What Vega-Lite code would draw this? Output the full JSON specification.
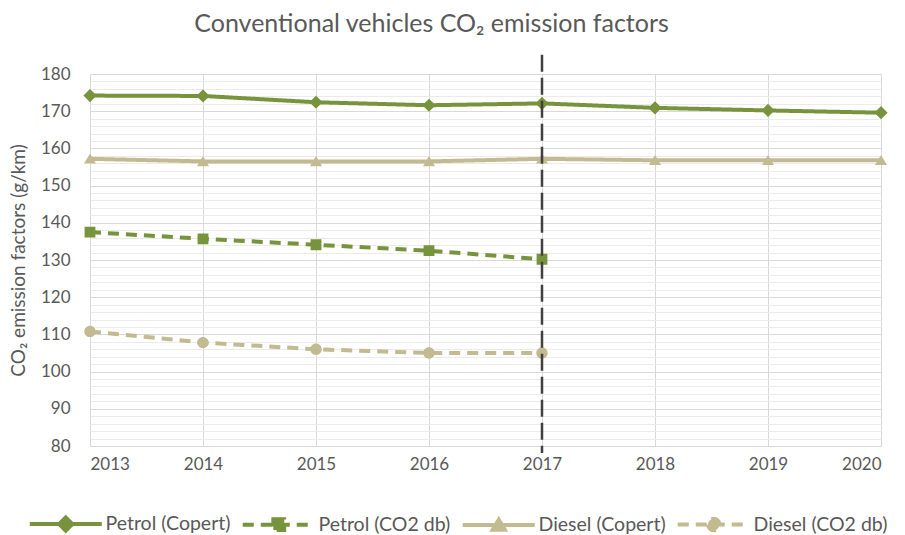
{
  "$schema": "https://vega.github.io/schema/vega-lite/v6.json",
  "width": 791,
  "height": 372,
  "autosize": {"type": "none"},
  "padding": {"left": 90, "right": 24, "top": 74, "bottom": 89},
  "background": "white",
  "config": {
    "font": "Lato",
    "view": {"stroke": null},
    "axis": {"labelColor": "#595959", "titleColor": "#595959", "labelFont": "Lato", "titleFont": "Lato", "labelFontSize": 17, "titleFontSize": 19, "titleFontWeight": "normal", "domain": false, "ticks": false, "gridWidth": 1},
    "legend": {"labelFont": "Lato", "labelFontSize": 19.5, "labelColor": "#595959", "symbolStrokeWidth": 4, "symbolOpacity": 1, "padding": 0}
  },
  "title": {"text": "Conventional vehicles CO₂ emission factors", "fontSize": 25, "fontWeight": "normal", "color": "#595959", "font": "Lato", "anchor": "middle", "frame": "group", "offset": 16, "dx": -54},
  "datasets": {
    "series": [
      {"series": "Petrol (Copert)", "year": 2013, "value": 174.2},
      {"series": "Petrol (Copert)", "year": 2014, "value": 174.1},
      {"series": "Petrol (Copert)", "year": 2015, "value": 172.4},
      {"series": "Petrol (Copert)", "year": 2016, "value": 171.6},
      {"series": "Petrol (Copert)", "year": 2017, "value": 172.1},
      {"series": "Petrol (Copert)", "year": 2018, "value": 170.9},
      {"series": "Petrol (Copert)", "year": 2019, "value": 170.2},
      {"series": "Petrol (Copert)", "year": 2020, "value": 169.6},
      {"series": "Petrol (CO2 db)", "year": 2013, "value": 137.5},
      {"series": "Petrol (CO2 db)", "year": 2014, "value": 135.7},
      {"series": "Petrol (CO2 db)", "year": 2015, "value": 134.1},
      {"series": "Petrol (CO2 db)", "year": 2016, "value": 132.5},
      {"series": "Petrol (CO2 db)", "year": 2017, "value": 130.2},
      {"series": "Diesel (Copert)", "year": 2013, "value": 157.2},
      {"series": "Diesel (Copert)", "year": 2014, "value": 156.5},
      {"series": "Diesel (Copert)", "year": 2015, "value": 156.5},
      {"series": "Diesel (Copert)", "year": 2016, "value": 156.5},
      {"series": "Diesel (Copert)", "year": 2017, "value": 157.2},
      {"series": "Diesel (Copert)", "year": 2018, "value": 156.8},
      {"series": "Diesel (Copert)", "year": 2019, "value": 156.8},
      {"series": "Diesel (Copert)", "year": 2020, "value": 156.8},
      {"series": "Diesel (CO2 db)", "year": 2013, "value": 110.8},
      {"series": "Diesel (CO2 db)", "year": 2014, "value": 107.8},
      {"series": "Diesel (CO2 db)", "year": 2015, "value": 106.0},
      {"series": "Diesel (CO2 db)", "year": 2016, "value": 105.0},
      {"series": "Diesel (CO2 db)", "year": 2017, "value": 105.0}
    ],
    "marker": [
      {"year": 2017, "top": 185.2, "bottom": 78.1}
    ]
  },
  "layer": [
    {
      "data": {"name": "series"},
      "mark": {"type": "line", "strokeWidth": 4, "strokeJoin": "round", "strokeCap": "butt"},
      "encoding": {
        "x": {
          "field": "year", "type": "quantitative",
          "scale": {"domain": [2013, 2020], "nice": false, "zero": false},
          "axis": {
            "title": null,
            "values": [2013, 2013.5, 2014, 2014.5, 2015, 2015.5, 2016, 2016.5, 2017, 2017.5, 2018, 2018.5, 2019, 2019.5, 2020],
            "tickCount": 100,
            "format": "d",
            "labelExpr": "datum.value % 1 === 0 ? datum.label : ''",
            "labelPadding": 10,
            "labelOverlap": false,
            "gridColor": {"condition": {"test": "datum.value % 1 === 0", "value": "#d9d9d9"}, "value": "#ececec"}
          }
        },
        "y": {
          "field": "value", "type": "quantitative",
          "scale": {"domain": [80, 180], "nice": false, "zero": false},
          "axis": {
            "title": "CO₂ emission factors (g/km)",
            "values": [80, 82, 84, 86, 88, 90, 92, 94, 96, 98, 100, 102, 104, 106, 108, 110, 112, 114, 116, 118, 120, 122, 124, 126, 128, 130, 132, 134, 136, 138, 140, 142, 144, 146, 148, 150, 152, 154, 156, 158, 160, 162, 164, 166, 168, 170, 172, 174, 176, 178, 180],
            "tickCount": 100,
            "labelExpr": "datum.value % 10 === 0 ? datum.label : ''",
            "labelOverlap": false,
            "labelPadding": 20,
            "titlePadding": 12,
            "gridColor": {"condition": {"test": "datum.value % 10 === 0", "value": "#d9d9d9"}, "value": "#ebebeb"}
          }
        },
        "color": {
          "field": "series", "type": "nominal",
          "scale": {"domain": ["Petrol (Copert)", "Petrol (CO2 db)", "Diesel (Copert)", "Diesel (CO2 db)"], "range": ["#77933c", "#77933c", "#c2ba90", "#c2ba90"]},
          "legend": {
            "title": null, "orient": "none", "legendX": -34, "legendY": 440, "direction": "horizontal", "columns": 4,
            "symbolSize": 144, "labelOffset": 30, "columnPadding": 3
          }
        },
        "strokeDash": {
          "field": "series", "type": "nominal",
          "scale": {"domain": ["Petrol (Copert)", "Petrol (CO2 db)", "Diesel (Copert)", "Diesel (CO2 db)"], "range": [[1, 0], [11, 7], [1, 0], [11, 7]]},
          "legend": {"title": null}
        }
      }
    },
    {
      "data": {"name": "series"},
      "mark": {"type": "point", "filled": true, "size": 144, "opacity": 1},
      "encoding": {
        "x": {"field": "year", "type": "quantitative"},
        "y": {"field": "value", "type": "quantitative"},
        "color": {
          "field": "series", "type": "nominal",
          "scale": {"domain": ["Petrol (Copert)", "Petrol (CO2 db)", "Diesel (Copert)", "Diesel (CO2 db)"], "range": ["#77933c", "#77933c", "#c2ba90", "#c2ba90"]},
          "legend": {"title": null}
        },
        "shape": {
          "field": "series", "type": "nominal",
          "scale": {"domain": ["Petrol (Copert)", "Petrol (CO2 db)", "Diesel (Copert)", "Diesel (CO2 db)"], "range": [
            "M-6,0L6,0M0,-1.1L1.1,0L0,1.1L-1.1,0Z",
            "M-6,0L6,0M-0.9,-0.9L0.9,-0.9L0.9,0.9L-0.9,0.9Z",
            "M-6,0L6,0M0,-0.9L1,0.8L-1,0.8Z",
            "M-6,0L6,0M-0.95,0A0.95,0.95,0,1,0,0.95,0A0.95,0.95,0,1,0,-0.95,0Z"
          ]},
          "legend": {"title": null}
        }
      }
    },
    {
      "data": {"name": "marker"},
      "mark": {"type": "rule", "color": "#404040", "strokeWidth": 2.5, "strokeDash": [17, 6], "clip": false},
      "encoding": {
        "x": {"field": "year", "type": "quantitative"},
        "y": {"field": "top", "type": "quantitative"},
        "y2": {"field": "bottom"}
      }
    }
  ]
}
